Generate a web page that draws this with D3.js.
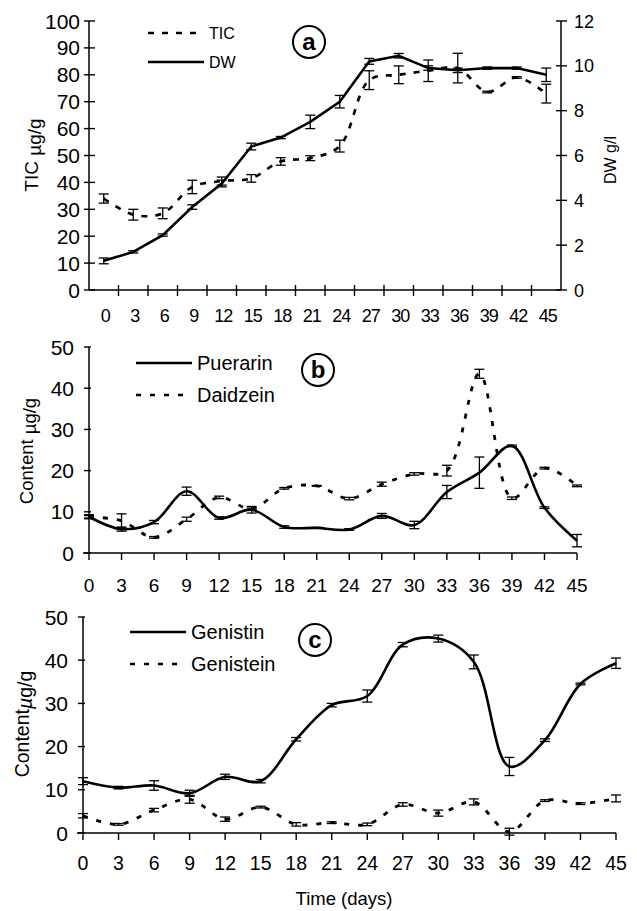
<!DOCTYPE html>
<html>
<head>
<meta charset="utf-8">
<script src="https://cdn.jsdelivr.net/npm/d3@7"></script>
<style>
  body { margin: 0; background: #fff; }
  svg { font-family: "Liberation Sans", Arial, sans-serif; }
  .axis path, .axis line { stroke: #000; }
</style>
</head>
<body>
<div id="chart"></div>
<script>
// data
const days = [0, 3, 6, 9, 12, 15, 18, 21, 24, 27, 30, 33, 36, 39, 42, 45];

// panel a
const tic    = [34, 28, 28.5, 38.3, 40.5, 41.5, 47.8, 49, 53.5, 78, 80, 81.5, 82.5, 73.6, 79, 73];
const ticErr = [1.7, 2, 2, 2.5, 1.5, 1.4, 1.4, 0.9, 2.2, 3.5, 3.3, 4, 5.5, 0.3, 0.3, 3.5];
const dw     = [1.3, 1.7, 2.45, 3.7, 4.75, 6.4, 6.8, 7.5, 8.4, 10.2, 10.45, 9.9, 9.8, 9.9, 9.9, 9.6];
const dwErr  = [0.13, 0.05, 0.05, 0.1, 0.15, 0.15, 0.05, 0.3, 0.28, 0.13, 0.1, 0.1, 0.1, 0.05, 0.05, 0.3];

// panel b
const puerarin    = [8.8, 5.8, 7.5, 15, 8.5, 10.5, 6.3, 6.1, 5.7, 9, 6.8, 14.8, 19.5, 26, 11, 3];
const puerarinErr = [0.5, 0.5, 0.4, 1, 0.3, 0.8, 0.3, 0.1, 0.2, 0.6, 0.9, 1.6, 3.8, 0.2, 0.2, 1.5];
const daidzein    = [8.8, 7.8, 3.8, 8.2, 13.5, 10.7, 15.7, 16.3, 13.2, 16.7, 19.2, 20, 43.5, 13.3, 20.6, 16.3];
const daidzeinErr = [0.3, 1.7, 0.2, 0.5, 0.3, 0.2, 0.2, 0.1, 0.3, 0.5, 0.3, 1.3, 1.1, 0.3, 0.2, 0.2];

// panel c
const genistin     = [12, 10.5, 11, 9.2, 13, 12, 21.7, 29.6, 31.7, 43.6, 45, 39.6, 15.4, 21.5, 34.5, 39.3];
const genistinErr  = [0.8, 0.3, 1.1, 0.7, 0.6, 0.4, 0.4, 0.4, 1.4, 0.5, 0.8, 1.6, 2.1, 0.3, 0.2, 1.2];
const genistein    = [4, 2, 5.3, 7.8, 3.2, 6, 2, 2.4, 2, 6.6, 4.6, 7.2, 0.3, 7.5, 6.8, 8];
const genisteinErr = [0.5, 0.2, 0.4, 0.9, 0.5, 0.2, 0.4, 0.2, 0.3, 0.4, 0.7, 0.7, 0.8, 0.2, 0.2, 0.8];

const svg = d3.select("#chart").append("svg")
    .attr("width", 637)
    .attr("height", 911);

// helper: error bars with caps
function errorBars(g, xs, ys, vals, errs) {
    const cap = 5;
    const eb = g.append("g").attr("stroke", "#000").attr("stroke-width", 1.3);
    vals.forEach((v, i) => {
        const x = xs(days[i]);
        const y1 = ys(v - errs[i]), y2 = ys(v + errs[i]);
        eb.append("line").attr("x1", x).attr("x2", x).attr("y1", y1).attr("y2", y2);
        eb.append("line").attr("x1", x - cap).attr("x2", x + cap).attr("y1", y1).attr("y2", y1);
        eb.append("line").attr("x1", x - cap).attr("x2", x + cap).attr("y1", y2).attr("y2", y2);
    });
}

function circleLabel(cx, cy, txt) {
    svg.append("circle").attr("cx", cx).attr("cy", cy).attr("r", 16)
        .attr("fill", "#fff").attr("stroke", "#000").attr("stroke-width", 2);
    svg.append("text").attr("x", cx).attr("y", cy + 8).attr("text-anchor", "middle")
        .attr("font-size", 24).attr("font-weight", "bold").text(txt);
}

function legendItem(x, y, dash, label, size) {
    svg.append("line").attr("x1", x).attr("x2", x + 56).attr("y1", y).attr("y2", y)
        .attr("stroke", "#000").attr("stroke-width", 2.6)
        .attr("stroke-dasharray", dash);
    svg.append("text").attr("x", x + 61).attr("y", y + size * 0.36)
        .attr("font-size", size).text(label);
}

// ---------- panel a ----------
const xa = d3.scaleBand().domain(days).range([89, 561]);
const xaC = d => xa(d) + xa.bandwidth() / 2;
const yaL = d3.scaleLinear().domain([0, 100]).range([290, 21]);
const yaR = d3.scaleLinear().domain([0, 12]).range([290, 21]);

const ga = svg.append("g");

// axes lines
ga.append("line").attr("x1", 89).attr("x2", 89).attr("y1", yaL(100)).attr("y2", yaL(0)).attr("stroke", "#000").attr("stroke-width", 1.5);
ga.append("line").attr("x1", 561).attr("x2", 561).attr("y1", yaR(12)).attr("y2", yaR(0)).attr("stroke", "#000").attr("stroke-width", 1.5);
ga.append("line").attr("x1", 89).attr("x2", 561).attr("y1", yaL(0)).attr("y2", yaL(0)).attr("stroke", "#000").attr("stroke-width", 1.5);

// cross ticks
ga.selectAll(".tl").data(yaL.ticks(10)).enter().append("line")
    .attr("x1", 84).attr("x2", 95).attr("y1", d => yaL(d)).attr("y2", d => yaL(d))
    .attr("stroke", "#000").attr("stroke-width", 1.4);
ga.selectAll(".tr").data(yaR.ticks(6)).enter().append("line")
    .attr("x1", 556).attr("x2", 567).attr("y1", d => yaR(d)).attr("y2", d => yaR(d))
    .attr("stroke", "#000").attr("stroke-width", 1.4);
ga.selectAll(".tb").data(days.slice(1)).enter().append("line")
    .attr("x1", d => xa(d)).attr("x2", d => xa(d)).attr("y1", 285).attr("y2", 296)
    .attr("stroke", "#000").attr("stroke-width", 1.4);

// tick labels
ga.selectAll(".ll").data(yaL.ticks(10)).enter().append("text")
    .attr("x", 80).attr("y", d => yaL(d) + 7.5).attr("text-anchor", "end")
    .attr("font-size", 21).text(d => d);
ga.selectAll(".rl").data(yaR.ticks(6)).enter().append("text")
    .attr("x", 574).attr("y", d => yaR(d) + 6.5)
    .attr("font-size", 18).text(d => d);
ga.selectAll(".bl").data(days).enter().append("text")
    .attr("x", d => xaC(d) + 2).attr("y", 322).attr("text-anchor", "middle")
    .attr("font-size", 18).attr("textLength", d => d < 10 ? null : 19)
    .text(d => d);

// axis titles
ga.append("text").attr("transform", "translate(38,155) rotate(-90)")
    .attr("text-anchor", "middle").attr("font-size", 19)
    .text("TIC ").append("tspan").attr("dy", 3).text("µg/g");
ga.append("text").attr("transform", "translate(616,160) rotate(-90)")
    .attr("text-anchor", "middle").attr("font-size", 16).text("DW g/l");

errorBars(ga, xaC, yaL, tic, ticErr);
errorBars(ga, xaC, yaR, dw, dwErr);

ga.append("path").datum(tic.map((v, i) => [xaC(days[i]), yaL(v)]))
    .attr("fill", "none").attr("stroke", "#000").attr("stroke-width", 2.6)
    .attr("stroke-dasharray", "6,8")
    .attr("d", d3.line().curve(d3.curveCatmullRom.alpha(0.5)));
ga.append("path").datum(dw.map((v, i) => [xaC(days[i]), yaR(v)]))
    .attr("fill", "none").attr("stroke", "#000").attr("stroke-width", 2.6)
    .attr("d", d3.line());

legendItem(148, 33, "6,8", "TIC", 16);
legendItem(148, 62, null, "DW", 16);
circleLabel(309, 42, "a");

// ---------- panels b and c ----------
function lowerPanel(opt) {
    const x = d3.scaleLinear().domain([0, 45]).range([opt.x0, opt.x1]);
    const y = d3.scaleLinear().domain([0, 50]).range([opt.y0, opt.y1]);
    const g = svg.append("g");

    g.append("line").attr("x1", opt.x0).attr("x2", opt.x0).attr("y1", y(50)).attr("y2", y(0))
        .attr("stroke", "#000").attr("stroke-width", 1.5);
    g.append("line").attr("x1", opt.x0 - 6).attr("x2", opt.x1).attr("y1", y(0)).attr("y2", y(0))
        .attr("stroke", "#000").attr("stroke-width", 1.5);

    g.selectAll(".yt").data(y.ticks(5)).enter().append("line")
        .attr("x1", opt.x0 - 5).attr("x2", opt.x0 + 2).attr("y1", d => y(d)).attr("y2", d => y(d))
        .attr("stroke", "#000").attr("stroke-width", 1.4);
    g.selectAll(".xt").data(days).enter().append("line")
        .attr("x1", d => x(d)).attr("x2", d => x(d)).attr("y1", y(0)).attr("y2", y(0) + 7)
        .attr("stroke", "#000").attr("stroke-width", 1.4);

    g.selectAll(".yl").data(y.ticks(5)).enter().append("text")
        .attr("x", opt.x0 - 15).attr("y", d => y(d) + 7.5).attr("text-anchor", "end")
        .attr("font-size", 21).text(d => d);
    g.selectAll(".xl").data(days).enter().append("text")
        .attr("x", d => x(d)).attr("y", opt.labelY).attr("text-anchor", "middle")
        .attr("font-size", opt.xFont).text(d => d);

    const t = g.append("text").attr("transform", `translate(${opt.titleX},${opt.titleY}) rotate(-90)`)
        .attr("text-anchor", "middle").attr("font-size", opt.titleFont)
        .text(opt.titleMain);
    if (opt.italicMu) {
        t.append("tspan").attr("dy", 3).attr("font-style", "italic").text("µ");
        t.append("tspan").text("g/g");
    } else {
        t.append("tspan").attr("dy", 3).text("µg/g");
    }

    errorBars(g, x, y, opt.solid, opt.solidErr);
    errorBars(g, x, y, opt.dashed, opt.dashedErr);

    const line = d3.line().curve(d3.curveCatmullRom.alpha(0.5));
    g.append("path").datum(opt.dashed.map((v, i) => [x(days[i]), y(v)]))
        .attr("fill", "none").attr("stroke", "#000").attr("stroke-width", 2.8)
        .attr("stroke-dasharray", "5,9").attr("d", line);
    g.append("path").datum(opt.solid.map((v, i) => [x(days[i]), y(v)]))
        .attr("fill", "none").attr("stroke", "#000").attr("stroke-width", 2.6)
        .attr("d", line);

    legendItem(opt.legX, opt.legY, null, opt.solidName, 20);
    legendItem(opt.legX, opt.legY + 32, "5,9", opt.dashedName, 20);
    circleLabel(opt.circX, opt.circY, opt.letter);
}

lowerPanel({
    x0: 89, x1: 577, y0: 553, y1: 347,
    labelY: 592, xFont: 19,
    titleX: 33, titleY: 451, titleFont: 18.5, titleMain: "Content ", italicMu: false,
    solid: puerarin, solidErr: puerarinErr, dashed: daidzein, dashedErr: daidzeinErr,
    solidName: "Puerarin", dashedName: "Daidzein",
    legX: 136, legY: 363, circX: 318, circY: 370, letter: "b"
});

lowerPanel({
    x0: 83, x1: 616, y0: 833, y1: 617,
    labelY: 870, xFont: 19.5,
    titleX: 29, titleY: 724, titleFont: 19.5, titleMain: "Content", italicMu: true,
    solid: genistin, solidErr: genistinErr, dashed: genistein, dashedErr: genisteinErr,
    solidName: "Genistin", dashedName: "Genistein",
    legX: 130, legY: 632, circX: 315, circY: 640, letter: "c"
});

svg.append("text").attr("x", 344).attr("y", 905).attr("text-anchor", "middle")
    .attr("font-size", 18.5).text("Time (days)");
</script>
</body>
</html>
